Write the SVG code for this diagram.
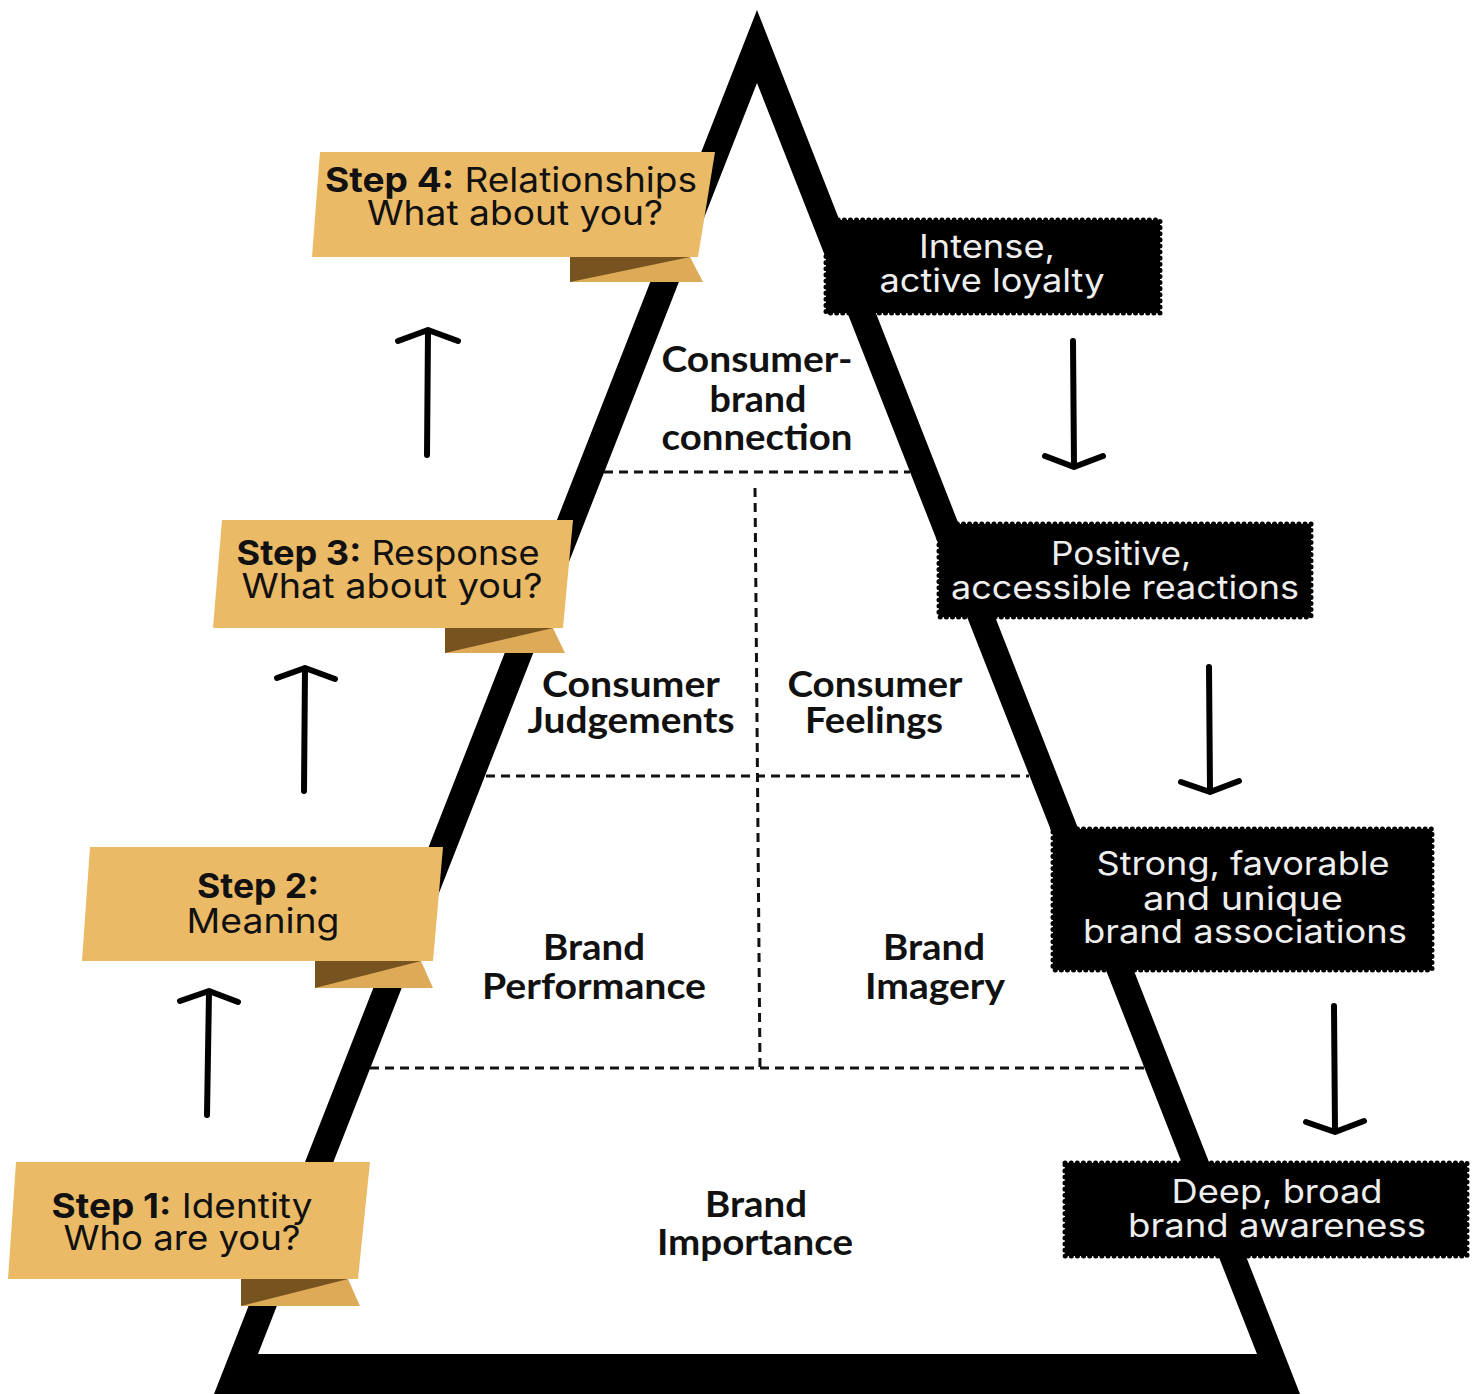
<svg xmlns="http://www.w3.org/2000/svg" width="1480" height="1394" viewBox="0 0 1480 1394">
<style>
.lbl{font-family:Lato,"Liberation Sans",sans-serif;font-weight:700;font-size:36px;fill:#111;text-anchor:middle}
.step{font-family:Inter,"Liberation Sans",sans-serif;font-size:34px;fill:#111;text-anchor:middle}
.step .b{font-weight:700}
.bx{font-family:Inter,"Liberation Sans",sans-serif;font-size:32px;fill:#eeeeee;text-anchor:middle}
.gold{fill:#EBBA67}
.tail{fill:#DDAA58}
.dark{fill:#775320}
.box{fill:#000;stroke:#000;stroke-width:5;stroke-dasharray:0.1 6;stroke-linecap:round}
.dash{stroke:#111;stroke-width:3;stroke-dasharray:9 6;fill:none}
.arr{stroke:#000;stroke-width:6;fill:none;stroke-linecap:round;stroke-linejoin:round}
</style>
<rect width="1480" height="1394" fill="#fff"/>
<g id="pyramid">
<path fill="#000" fill-rule="evenodd" d="M757,10 L1300,1394 L214,1394 Z M757,83 L258,1354 L1257,1354 Z"/>
</g>
<g id="dividers">
<line class="dash" x1="604" y1="472" x2="910" y2="472"/>
<line class="dash" x1="486" y1="776" x2="1029" y2="776"/>
<line class="dash" x1="370" y1="1068" x2="1144" y2="1068"/>
<line class="dash" x1="755" y1="488" x2="760" y2="1068"/>
</g>
<g id="label-connection">
<text class="lbl" x="757" y="372" textLength="191" lengthAdjust="spacingAndGlyphs">Consumer-</text>
<text class="lbl" x="758" y="412" textLength="97" lengthAdjust="spacingAndGlyphs">brand</text>
<text class="lbl" x="757" y="450" textLength="191" lengthAdjust="spacingAndGlyphs">connection</text>
</g>
<g id="label-judgements">
<text class="lbl" x="631" y="697" textLength="178" lengthAdjust="spacingAndGlyphs">Consumer</text>
<text class="lbl" x="631" y="733" textLength="207" lengthAdjust="spacingAndGlyphs">Judgements</text>
</g>
<g id="label-feelings">
<text class="lbl" x="875" y="697" textLength="175" lengthAdjust="spacingAndGlyphs">Consumer</text>
<text class="lbl" x="874" y="733" textLength="138" lengthAdjust="spacingAndGlyphs">Feelings</text>
</g>
<g id="label-performance">
<text class="lbl" x="594" y="960" textLength="102" lengthAdjust="spacingAndGlyphs">Brand</text>
<text class="lbl" x="594" y="999" textLength="224" lengthAdjust="spacingAndGlyphs">Performance</text>
</g>
<g id="label-imagery">
<text class="lbl" x="934" y="960" textLength="102" lengthAdjust="spacingAndGlyphs">Brand</text>
<text class="lbl" x="935" y="999" textLength="140" lengthAdjust="spacingAndGlyphs">Imagery</text>
</g>
<g id="label-importance">
<text class="lbl" x="756" y="1217" textLength="102" lengthAdjust="spacingAndGlyphs">Brand</text>
<text class="lbl" x="755" y="1255" textLength="196" lengthAdjust="spacingAndGlyphs">Importance</text>
</g>
<g id="step4">
<polygon class="tail" points="570,257 690,257 703,282 570,282"/>
<polygon class="dark" points="570,257 690,257 570,282"/>
<polygon class="gold" points="320,152 715,152 698,257 312,257"/>
<text class="step" x="511" y="192" textLength="372" lengthAdjust="spacingAndGlyphs"><tspan class="b">Step 4:</tspan> Relationships</text>
<text class="step" x="515" y="225" textLength="296" lengthAdjust="spacingAndGlyphs">What about you?</text>
</g>
<g id="step3">
<polygon class="tail" points="445,628 553,628 565,653 445,653"/>
<polygon class="dark" points="445,628 553,628 445,653"/>
<polygon class="gold" points="222,520 573,520 563,628 213,628"/>
<text class="step" x="388" y="565" textLength="303" lengthAdjust="spacingAndGlyphs"><tspan class="b">Step 3:</tspan> Response</text>
<text class="step" x="392" y="598" textLength="301" lengthAdjust="spacingAndGlyphs">What about you?</text>
</g>
<g id="step2">
<polygon class="tail" points="315,961 421,961 433,988 315,988"/>
<polygon class="dark" points="315,961 421,961 315,988"/>
<polygon class="gold" points="90,847 443,847 433,961 82,961"/>
<text class="step" x="258" y="898" textLength="122" lengthAdjust="spacingAndGlyphs"><tspan class="b">Step 2:</tspan></text>
<text class="step" x="263" y="933" textLength="153" lengthAdjust="spacingAndGlyphs">Meaning</text>
</g>
<g id="step1">
<polygon class="tail" points="241,1279 348,1279 360,1306 241,1306"/>
<polygon class="dark" points="241,1279 348,1279 241,1306"/>
<polygon class="gold" points="16,1162 370,1162 358,1279 8,1279"/>
<text class="step" x="182" y="1218" textLength="261" lengthAdjust="spacingAndGlyphs"><tspan class="b">Step 1:</tspan> Identity</text>
<text class="step" x="182" y="1250" textLength="237" lengthAdjust="spacingAndGlyphs">Who are you?</text>
</g>
<g id="box-loyalty">
<rect class="box" x="826" y="220" width="334" height="93"/>
<text class="bx" x="987" y="258" textLength="136" lengthAdjust="spacingAndGlyphs">Intense,</text>
<text class="bx" x="992" y="292" textLength="225" lengthAdjust="spacingAndGlyphs">active loyalty</text>
</g>
<g id="box-reactions">
<rect class="box" x="939" y="524" width="372" height="93"/>
<text class="bx" x="1121" y="565" textLength="140" lengthAdjust="spacingAndGlyphs">Positive,</text>
<text class="bx" x="1125" y="599" textLength="348" lengthAdjust="spacingAndGlyphs">accessible reactions</text>
</g>
<g id="box-associations">
<rect class="box" x="1053" y="829" width="379" height="141"/>
<text class="bx" x="1243" y="875" textLength="293" lengthAdjust="spacingAndGlyphs">Strong, favorable</text>
<text class="bx" x="1243" y="910" textLength="200" lengthAdjust="spacingAndGlyphs">and unique</text>
<text class="bx" x="1245" y="943" textLength="324" lengthAdjust="spacingAndGlyphs">brand associations</text>
</g>
<g id="box-awareness">
<rect class="box" x="1065" y="1163" width="402" height="93"/>
<text class="bx" x="1277" y="1203" textLength="211" lengthAdjust="spacingAndGlyphs">Deep, broad</text>
<text class="bx" x="1277" y="1237" textLength="298" lengthAdjust="spacingAndGlyphs">brand awareness</text>
</g>
<g id="connectors">
<path class="arr" d="M207,1115 L209,992 M180,1001 L209,991 L238,1002"/>
<path class="arr" d="M304,791 L305,668 M277,678 L305,668 L335,679"/>
<path class="arr" d="M427,455 L428,330 M398,341 L428,330 L458,341"/>
<path class="arr" d="M1073,341 L1074,466 M1045,456 L1074,467 L1103,456"/>
<path class="arr" d="M1209,667 L1210,791 M1181,782 L1210,792 L1239,781"/>
<path class="arr" d="M1334,1006 L1335,1131 M1306,1122 L1335,1132 L1364,1121"/>
</g>
</svg>
